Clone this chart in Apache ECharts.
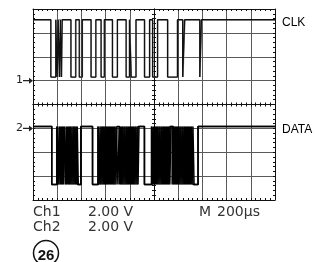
<!DOCTYPE html>
<html>
<head>
<meta charset="utf-8">
<style>
  html, body { margin: 0; padding: 0; background: #fff; }
  #main { width: 316px; height: 262px; }
</style>
<script src="https://cdn.jsdelivr.net/npm/echarts@6.0.0/dist/echarts.min.js"></script>
</head>
<body>
<div id="main"></div>
<script>
// scope settings: 200 us/div over 10 divs, 2.00 V/div over 8 divs
var timeRange = [0, 2000]
var timeStep = 200
var divRange = [-4, 4]

var channels = ['Ch1', 'Ch2']
var voltsPerDiv = [2, 2]
var voltsText = ['2.00 V', '2.00 V']
var timeText = ['M', '200µs']
var traceNames = ['CLK', 'DATA']
var groundDiv = [1, -1]          // ground marker of each channel, divs from centre
var figureNo = '26'

// CLK: high / low level (V) and the low periods (us)
var clkLevels = [5.1, 0.3]
var clkLows = [
  [147, 188], [200, 208], [218, 226], [236, 242], [313, 354], [382, 407],
  [479, 520], [562, 589], [656, 697], [769, 797], [811, 852], [921, 963],
  [988, 1029], [1112, 1195], [1237, 1253], [1378, 1392]
]
// second sweep left on the screen (persistence)
var clkGhostLows = [
  [150, 191], [204, 211], [228, 234], [316, 350], [386, 410], [483, 517],
  [566, 592], [660, 700], [773, 800], [815, 848], [925, 967], [992, 1032],
  [1116, 1191], [1241, 1257], [1381, 1396]
]

// DATA: high / low level (V) and the low periods (us)
var dataLevels = [0.15, -4.7]
var dataLows = [
  [155, 196],
  [206, 216], [226, 236], [244, 254], [268, 276], [286, 296], [304, 312],
  [322, 332], [340, 348], [358, 366], [374, 396],
  [492, 536],
  [546, 554], [562, 572], [580, 588], [597, 606], [614, 624], [632, 640],
  [650, 658], [668, 676], [686, 694], [716, 724], [734, 742], [752, 760],
  [770, 778], [788, 796], [806, 814], [824, 832], [842, 850], [860, 868],
  [921, 979],
  [989, 997], [1005, 1013], [1023, 1031], [1041, 1049], [1059, 1067], [1077, 1085],
  [1095, 1103], [1113, 1121], [1131, 1140], [1160, 1168], [1178, 1186], [1196, 1204],
  [1214, 1222], [1232, 1240], [1250, 1258], [1268, 1276], [1286, 1294], [1304, 1312],
  [1322, 1364]
]
var dataGhostLows = [
  [155, 201],
  [215, 225], [235, 244], [253, 262], [276, 286], [295, 304], [313, 322],
  [331, 340], [349, 358], [367, 396],
  [492, 540],
  [555, 563], [571, 580], [589, 597], [606, 614], [623, 632], [641, 650],
  [659, 668], [677, 686], [702, 712], [725, 734], [743, 752], [761, 770],
  [779, 788], [797, 806], [815, 824], [833, 842], [851, 860], [868, 876],
  [921, 984],
  [998, 1005], [1014, 1023], [1032, 1041], [1050, 1059], [1068, 1077], [1086, 1095],
  [1104, 1113], [1122, 1131], [1150, 1158], [1169, 1178], [1187, 1196], [1205, 1214],
  [1223, 1232], [1241, 1250], [1259, 1268], [1277, 1286], [1295, 1304], [1313, 1322],
  [1331, 1364]
]

function trace(lows, levels, ch) {
  var hi = groundDiv[ch] + levels[0] / voltsPerDiv[ch]
  var lo = groundDiv[ch] + levels[1] / voltsPerDiv[ch]
  var pts = [[timeRange[0], hi]]
  lows.forEach(function (p) {
    pts.push([p[0], hi], [p[0], lo], [p[1], lo], [p[1], hi])
  })
  pts.push([timeRange[1], hi])
  return pts
}

var minor = { show: true, splitNumber: 5, length: 2, lineStyle: { color: '#111', width: 1 } }
var grid = { color: '#5a5a5a', width: 1 }

function xAxis(pos, centre) {
  return {
    type: 'value', min: timeRange[0], max: timeRange[1], interval: timeStep, position: pos,
    axisLine: { onZero: centre, onZeroAxisIndex: 0, lineStyle: { color: '#111', width: 1 } },
    axisTick: { inside: true, length: 2, lineStyle: { color: '#111' } },
    minorTick: minor,
    axisLabel: { show: false },
    splitLine: { show: pos === 'bottom' && !centre, lineStyle: grid }
  }
}
function yAxis(pos, centre) {
  return {
    type: 'value', min: divRange[0], max: divRange[1], interval: 1, position: pos,
    axisLine: { onZero: centre, onZeroAxisIndex: 4, lineStyle: { color: '#111', width: 1 } },
    axisTick: { inside: true, length: 2, lineStyle: { color: '#111' } },
    minorTick: minor,
    axisLabel: { show: false },
    splitLine: { show: pos === 'left' && !centre, lineStyle: grid }
  }
}

var arrow = 'path://M0,2.4H6V0L10,3L6,6V3.6H0Z'
function ground(ch) {
  return {
    symbol: arrow, symbolSize: [10, 6], symbolOffset: [-5, 0],
    itemStyle: { color: '#222' },
    label: { show: true, position: 'left', distance: 0, formatter: '{b}', color: '#222', fontSize: 11, fontFamily: 'DejaVu Sans' },
    data: [{ name: String(ch + 1), coord: [timeRange[0], groundDiv[ch]] }]
  }
}
function endLabel(text) {
  return { show: true, formatter: text, distance: 7, offset: [0, 3], color: '#000', fontSize: 12, fontFamily: 'Liberation Sans' }
}
function line(name, data, color, width, z) {
  return { name: name, type: 'line', data: data, showSymbol: false, silent: true, z: z, lineStyle: { color: color, width: width } }
}

var txt = { fontSize: 14, fontWeight: 'normal', color: '#333', fontFamily: 'DejaVu Sans' }
var titles = [
  { text: channels[0], left: 33, top: 205 },
  { text: voltsText[0], left: 88, top: 205 },
  { text: timeText[0], left: 199, top: 205 },
  { text: timeText[1], left: 217, top: 205 },
  { text: channels[1], left: 33, top: 220 },
  { text: voltsText[1], left: 88, top: 220 }
].map(function (t) { t.padding = 0; t.textStyle = txt; return t })

var clk = line(traceNames[0], trace(clkLows, clkLevels, 0), '#111', 1.3, 3)
clk.endLabel = endLabel(traceNames[0])
clk.markPoint = ground(0)
var dat = line(traceNames[1], trace(dataLows, dataLevels, 1), '#000', 1.5, 3)
dat.endLabel = endLabel(traceNames[1])
dat.markPoint = ground(1)

var chart = echarts.init(document.getElementById('main'))
chart.setOption({
  animation: false,
  title: titles,
  grid: { left: 33, right: 41, top: 9, bottom: 62 },
  xAxis: [
    xAxis('bottom', false), xAxis('top', false),
    xAxis('bottom', true), xAxis('top', true),
    { type: 'value', min: -5, max: 5, show: false }
  ],
  yAxis: [
    yAxis('left', false), yAxis('right', false),
    yAxis('left', true), yAxis('right', true)
  ],
  series: [
    line('CLK ghost', trace(clkGhostLows, clkLevels, 0), '#8c8c8c', 1, 2),
    line('DATA ghost', trace(dataGhostLows, dataLevels, 1), '#000', 1.5, 2),
    clk,
    dat
  ],
  graphic: [
    { type: 'circle', shape: { cx: 46, cy: 253, r: 12.5 }, style: { fill: 'none', stroke: '#111', lineWidth: 1.5 } },
    { type: 'text', x: 46, y: 256, style: { text: figureNo, font: 'bold 15px "Liberation Sans"', fill: '#111', align: 'center', verticalAlign: 'middle' } }
  ]
})
</script>
</body>
</html>
